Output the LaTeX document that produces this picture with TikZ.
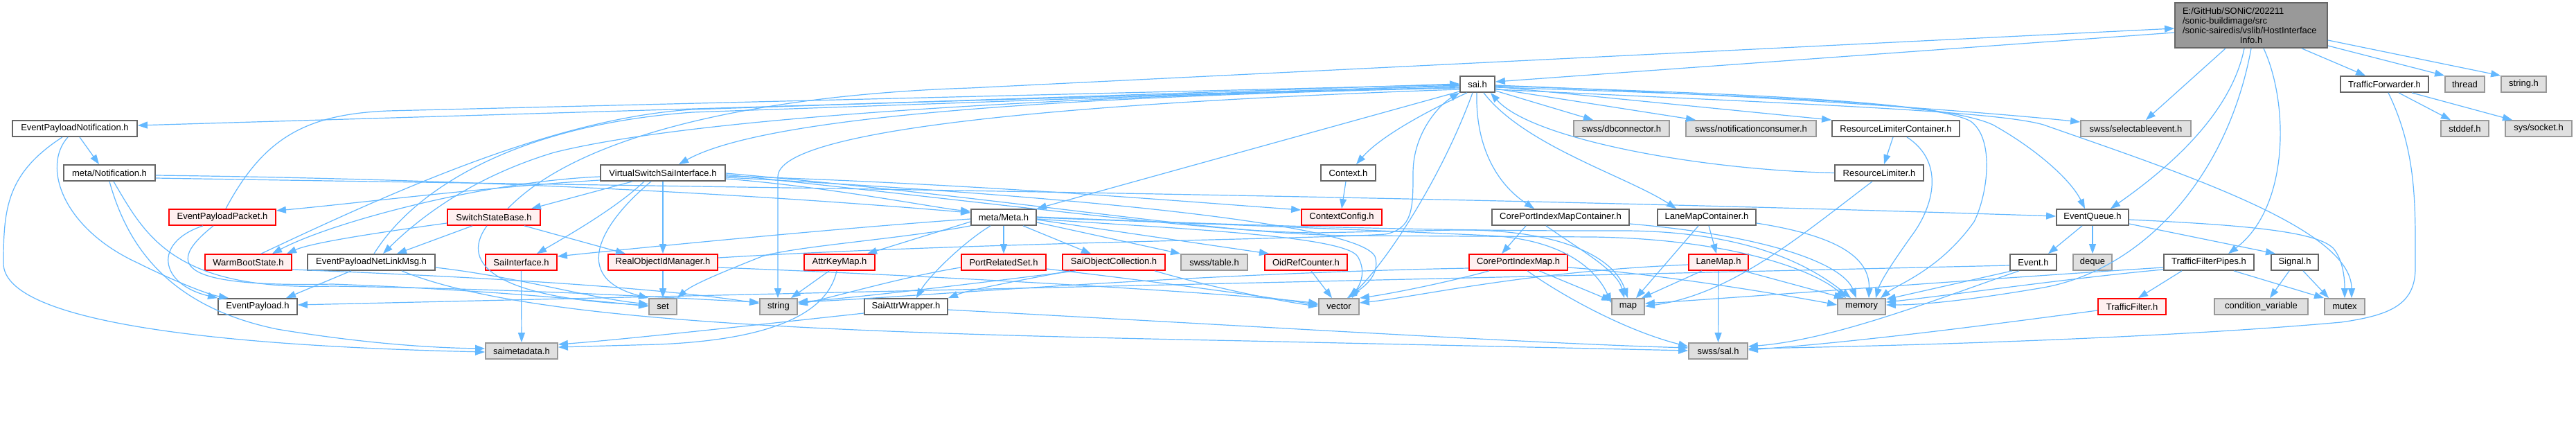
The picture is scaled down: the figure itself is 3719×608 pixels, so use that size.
\documentclass[tikz,border=0pt]{standalone}
\usepackage{fontspec}
\setmainfont{Liberation Sans}
\usetikzlibrary{arrows.meta}
\definecolor{edgec}{HTML}{63B8FF}
\definecolor{wbd}{HTML}{666666}
\definecolor{gfill}{HTML}{E0E0E0}
\definecolor{gbd}{HTML}{999999}
\definecolor{rfill}{HTML}{FFF0F0}
\definecolor{rbd}{HTML}{FF0000}
\definecolor{rootfill}{HTML}{999999}
\definecolor{rootbd}{HTML}{666666}
\newcommand\nd[6]{\node[#5, minimum width={(#3-#2)*1pt}] (#1) at ({(#2+#3)/2},#4) {#6};}
\begin{document}
\begin{tikzpicture}[x=1pt,y=-1pt,
 bx/.style={rectangle, minimum height=23pt, inner xsep=0pt, inner ysep=0pt, line width=1.8pt, font=\fontsize{13}{15}\selectfont, text=black},
 wh/.style={bx, fill=white, draw=wbd},
 gr/.style={bx, fill=gfill, draw=gbd},
 rd/.style={bx, fill=rfill, draw=rbd},
 ed/.style={draw=edgec, line width=1.2pt, -{Triangle[length=14pt,width=10pt]}}]
\path[fill=white] (0,0) rectangle (3719,608);
\useasboundingbox (0,0) rectangle (3719,608);

% ---------- nodes ----------
\node[bx, fill=rootfill, draw=rootbd, minimum width=220pt, minimum height=65pt, text width=198pt, align=left, font=\fontsize{13}{14}\selectfont] (root) at (3250,36.5) {E:/GitHub/SONiC/202211\\/sonic-buildimage/src\\/sonic-sairedis/vslib/HostInterface\\\makebox[\linewidth]{Info.h}};
\nd{sai}{2108}{2158}{121.5}{wh}{sai.h}
\nd{tfwd}{3379}{3506}{121.5}{wh}{TrafficForwarder.h}
\nd{thread}{3530}{3587}{121.5}{gr}{thread}
\nd{stringh}{3611}{3676}{121.5}{gr}{string.h}
\nd{epn}{18}{198}{185.5}{wh}{EventPayloadNotification.h}
\nd{dbconn}{2272}{2410}{185.5}{gr}{swss/dbconnector.h}
\nd{notifcons}{2434}{2622}{185.5}{gr}{swss/notificationconsumer.h}
\nd{rlc}{2645}{2829}{185.5}{wh}{ResourceLimiterContainer.h}
\nd{selev}{3004}{3163}{185.5}{gr}{swss/selectableevent.h}
\nd{stddef}{3524}{3593}{185.5}{gr}{stddef.h}
\nd{socket}{3617}{3713}{185.5}{gr}{sys/socket.h}
\nd{metanotif}{92}{224}{249.5}{wh}{meta/Notification.h}
\nd{vssi}{867}{1047}{249.5}{wh}{VirtualSwitchSaiInterface.h}
\nd{context}{1907}{1986}{249.5}{wh}{Context.h}
\nd{rl}{2649}{2777}{249.5}{wh}{ResourceLimiter.h}
\nd{epp}{244}{398}{313.5}{rd}{EventPayloadPacket.h}
\nd{ssb}{646}{780}{313.5}{rd}{SwitchStateBase.h}
\nd{meta}{1402}{1496}{313.5}{wh}{meta/Meta.h}
\nd{ctxcfg}{1879}{1995}{313.5}{rd}{ContextConfig.h}
\nd{cpimc}{2154}{2352}{313.5}{wh}{CorePortIndexMapContainer.h}
\nd{lmc}{2393}{2535}{313.5}{wh}{LaneMapContainer.h}
\nd{eq}{2969}{3073}{313.5}{wh}{EventQueue.h}
\nd{wbs}{296}{421}{378.5}{rd}{WarmBootState.h}
\nd{epnl}{444}{628}{378.5}{wh}{EventPayloadNetLinkMsg.h}
\nd{saiif}{701}{804}{378.5}{rd}{SaiInterface.h}
\nd{roim}{878}{1036}{378.5}{rd}{RealObjectIdManager.h}
\nd{akm}{1161}{1263}{378.5}{rd}{AttrKeyMap.h}
\nd{prs}{1388}{1510}{378.5}{rd}{PortRelatedSet.h}
\nd{soc}{1534}{1682}{378.5}{rd}{SaiObjectCollection.h}
\nd{table}{1705}{1801}{378.5}{gr}{swss/table.h}
\nd{orc}{1826}{1945}{378.5}{rd}{OidRefCounter.h}
\nd{cpim}{2121}{2263}{378.5}{rd}{CorePortIndexMap.h}
\nd{lanemap}{2438}{2524}{378.5}{rd}{LaneMap.h}
\nd{event}{2902}{2969}{378.5}{wh}{Event.h}
\nd{deque}{2993}{3049}{378.5}{gr}{deque}
\nd{tfp}{3124}{3254}{378.5}{wh}{TrafficFilterPipes.h}
\nd{signal}{3279}{3347}{378.5}{wh}{Signal.h}
\nd{ep}{315}{429}{442.5}{wh}{EventPayload.h}
\nd{set}{937}{977}{442.5}{gr}{set}
\nd{string}{1097}{1151}{442.5}{gr}{string}
\nd{saw}{1248}{1368}{442.5}{wh}{SaiAttrWrapper.h}
\nd{vector}{1904}{1962}{442.5}{gr}{vector}
\nd{map}{2327}{2374}{442.5}{gr}{map}
\nd{memory}{2653}{2722}{442.5}{gr}{memory}
\nd{tf}{3029}{3127}{442.5}{rd}{TrafficFilter.h}
\nd{condvar}{3197}{3332}{442.5}{gr}{condition\_variable}
\nd{mutex}{3356}{3414}{442.5}{gr}{mutex}
\nd{saimeta}{701}{805}{506.5}{gr}{saimetadata.h}
\nd{sal}{2438}{2523}{506.5}{gr}{swss/sal.h}

% ---------- root ----------
\draw[ed] (root.west |- 0,47) -- (sai.east |- 0,118);
\draw[ed] (ssb.north -| 733,0) .. controls (850,180) and (1150,135) .. (1400,127) -- (root.west |- 0,41);
\draw[ed] (root.south -| 3213,0) -- (selev.north -| 3098,0);
\draw[ed] (root.south -| 3240,0) .. controls (3220,170) and (3120,250) .. (eq.north -| 3047,0);
\draw[ed] (root.south -| 3268,0) .. controls (3305,150) and (3305,300) .. (tfp.north -| 3217,0);
\draw[ed] (root.south -| 3250,0) .. controls (3215,260) and (3090,390) .. (2950,415) .. controls (2850,432) and (2780,440) .. (memory.east |- 0,440);
\draw[ed] (root.south -| 3323,0) -- (tfwd.north -| 3415,0);
\draw[ed] (root.east |- 0,66) -- (thread.north west);
\draw[ed] (root.east |- 0,58) -- (stringh.north west);

% ---------- TrafficForwarder ----------
\draw[ed] (tfwd.south -| 3463,0) -- (stddef.north -| 3538,0);
\draw[ed] (tfwd.south -| 3482,0) -- (socket.north -| 3627,0);
\draw[ed] (tfwd.south -| 3448,0) .. controls (3490,220) and (3487,300) .. (3487,387) .. controls (3487,440) and (3450,455) .. (3380,465) .. controls (3100,490) and (2700,500) .. (sal.east |- 0,503);

% ---------- EventQueue ----------
\draw[ed] (eq.south -| 3006,0) -- (event.north -| 2957,0);
\draw[ed] (eq.south -| 3021,0) -- (deque.north -| 3021,0);
\draw[ed] (eq.east |- 0,323) -- (signal.north -| 3285,0);
\draw[ed] (eq.east |- 0,317) .. controls (3250,325) and (3350,335) .. (3370,360) .. controls (3385,380) and (3385,410) .. (mutex.north -| 3385,0);

% ---------- Signal / TrafficFilterPipes ----------
\draw[ed] (signal.south -| 3305,0) -- (condvar.north -| 3277,0);
\draw[ed] (signal.south -| 3325,0) -- (mutex.north -| 3362,0);
\draw[ed] (tfp.south -| 3150,0) -- (tf.north -| 3087,0);
\draw[ed] (tfp.south -| 3225,0) -- (mutex.north west);
\draw[ed] (tfp.west |- 0,386) .. controls (2900,400) and (2500,430) .. (map.east |- 0,438);
\draw[ed] (tfp.west |- 0,389) .. controls (3000,400) and (2800,428) .. (memory.east |- 0,436);
\draw[ed] (tf.west |- 0,448) .. controls (2900,465) and (2700,492) .. (sal.east |- 0,505);

% ---------- Event ----------
\draw[ed] (event.west |- 0,383) -- (ep.east |- 0,440);
\draw[ed] (event.south -| 2905,0) -- (memory.east |- 0,432);
\draw[ed] (event.south -| 2915,0) .. controls (2800,430) and (2650,490) .. (sal.east |- 0,500);

% ---------- LaneMap / containers ----------
\draw[ed] (lanemap.south) -- (sal.north);
\draw[ed] (lanemap.south -| 2457,0) -- (map.north -| 2370,0);
\draw[ed] (lanemap.south -| 2517,0) -- (memory.north -| 2662,0);
\draw[ed] (lanemap.west |- 0,382) .. controls (2200,392) and (2050,428) .. (vector.east |- 0,437);
\draw[ed] (lmc.south -| 2467,0) -- (lanemap.north -| 2478,0);
\draw[ed] (lmc.south -| 2452,0) -- (map.north -| 2362,0);
\draw[ed] (lmc.east |- 0,322) .. controls (2650,340) and (2700,370) .. (memory.north -| 2698,0);
\draw[ed] (cpimc.south -| 2203,0) -- (cpim.north -| 2168,0);
\draw[ed] (cpimc.south -| 2232,0) .. controls (2280,360) and (2335,390) .. (map.north -| 2345,0);
\draw[ed] (cpimc.east |- 0,323) .. controls (2550,340) and (2660,380) .. (memory.north -| 2680,0);
\draw[ed] (cpim.south -| 2150,0) .. controls (2080,410) and (2000,425) .. (vector.north east);
\draw[ed] (cpim.south -| 2222,0) -- (map.west |- 0,434);
\draw[ed] (cpim.south -| 2205,0) .. controls (2260,430) and (2350,478) .. (sal.west |- 0,500);
\draw[ed] (cpim.east |- 0,386) .. controls (2400,395) and (2600,430) .. (memory.west |- 0,440);
\draw[ed] (cpim.west |- 0,387) .. controls (1700,395) and (1300,430) .. (string.east |- 0,436);

% ---------- ResourceLimiter ----------
\draw[ed] (rlc.south -| 2733,0) -- (rl.north -| 2720,0);
\draw[ed] (rlc.south -| 2753,0) .. controls (2810,235) and (2790,300) .. (2760,340) .. controls (2735,375) and (2715,405) .. (memory.north -| 2708,0);
\draw[ed] (rl.west) .. controls (2450,245) and (2210,200) .. (sai.south -| 2152,0);
\draw[ed] (rl.south -| 2703,0) .. controls (2600,340) and (2500,425) .. (map.east |- 0,442);

% ---------- Context ----------
\draw[ed] (context.south -| 1943,0) -- (ctxcfg.north -| 1937,0);

% ---------- sai.h ----------
\draw[ed] (sai.south -| 2118,0) .. controls (2050,165) and (1990,200) .. (context.north -| 1958,0);
\draw[ed] (sai.south -| 2132,0) .. controls (2130,210) and (2160,265) .. (cpimc.north -| 2215,0);
\draw[ed] (sai.south -| 2142,0) .. controls (2200,210) and (2350,255) .. (lmc.north -| 2420,0);
\draw[ed] (sai.east |- 0,131) -- (dbconn.north -| 2300,0);
\draw[ed] (sai.east |- 0,128) -- (notifcons.north -| 2448,0);
\draw[ed] (sai.east |- 0,125) -- (rlc.north west);
\draw[ed] (sai.east |- 0,123) .. controls (2600,140) and (2900,165) .. (selev.west |- 0,176);
\draw[ed] (sai.east |- 0,124) .. controls (2500,135) and (2800,145) .. (2877,180) .. controls (2940,215) and (2990,260) .. (eq.north -| 3010,0);
\draw[ed] (sai.east |- 0,126) .. controls (2600,140) and (2800,150) .. (2845,175) .. controls (2880,200) and (2870,280) .. (2850,320) .. controls (2800,390) and (2740,410) .. (memory.north -| 2715,0);
\draw[ed] (sai.east |- 0,129) .. controls (2600,150) and (2880,160) .. (2950,180) .. controls (3150,250) and (3395,330) .. (mutex.north -| 3395,0);
\draw[ed] (sai.south -| 2126,0) .. controls (2080,260) and (2000,380) .. (vector.north -| 1947,0);
\draw[ed] (sai.west |- 0,129) .. controls (1500,150) and (1123,190) .. (1123,255) -- (string.north -| 1123,0);
\draw[ed] (sai.west |- 0,132) -- (meta.north east);
\draw[ed] (sai.west |- 0,127) .. controls (1500,140) and (1100,170) .. (vssi.north -| 980,0);
\draw[ed] (sai.west |- 0,124) -- (epn.east |- 0,181);
\draw[ed] (sai.west |- 0,126) .. controls (1500,140) and (1000,170) .. (800,220) .. controls (700,250) and (620,300) .. (epnl.north -| 553,0);

% ---------- back edges into sai.h ----------
\draw[ed] (epp.north -| 326,0) .. controls (380,200) and (440,165) .. (560,160) -- (sai.west |- 0,122);
\draw[ed] (wbs.north -| 377,0) .. controls (560,280) and (800,170) .. (1000,158) -- (sai.west |- 0,121);
\draw[ed] (epnl.north -| 540,0) .. controls (600,270) and (750,180) .. (1000,162) -- (sai.west |- 0,123);
\draw[ed] (roim.east |- 0,372) .. controls (1400,350) and (1900,345) .. (2000,338) .. controls (2040,330) and (2040,300) .. (2040,250) .. controls (2040,190) and (2080,150) .. (sai.south west);

% ---------- EventPayloadNotification / Notification ----------
\draw[ed] (epn.south -| 115,0) -- (metanotif.north -| 143,0);
\draw[ed] (epn.south -| 98,0) .. controls (60,240) and (90,330) .. (200,380) .. controls (250,405) and (300,425) .. (ep.north -| 330,0);
\draw[ed] (epn.south -| 90,0) .. controls (10,250) and (5,300) .. (5,380) .. controls (5,470) and (350,500) .. (saimeta.west |- 0,508);
\draw[ed] (metanotif.east |- 0,253) .. controls (800,260) and (1200,290) .. (meta.west |- 0,307);
\draw[ed] (metanotif.east |- 0,257) .. controls (1000,270) and (2000,280) .. (eq.west |- 0,312);
\draw[ed] (metanotif.south -| 158,0) .. controls (180,340) and (230,440) .. (400,475) .. controls (520,495) and (620,502) .. (saimeta.west |- 0,503);
\draw[ed] (metanotif.south -| 164,0) .. controls (210,340) and (250,420) .. (480,413) .. controls (800,418) and (1000,432) .. (string.west |- 0,436);

% ---------- EventPayloadPacket / WarmBootState / NetLinkMsg ----------
\draw[ed] (epp.south -| 293,0) .. controls (220,350) and (230,410) .. (ep.north west);
\draw[ed] (epp.south -| 308,0) .. controls (240,380) and (250,415) .. (480,410) .. controls (700,418) and (870,435) .. (set.west |- 0,442);
\draw[ed] (wbs.east |- 0,389) .. controls (700,400) and (950,415) .. (string.west |- 0,438);
\draw[ed] (epnl.south -| 507,0) -- (ep.north -| 413,0);
\draw[ed] (epnl.south -| 580,0) .. controls (760,465) and (1200,480) .. (1800,492) -- (sal.west |- 0,506);
\draw[ed] (epnl.east |- 0,386) .. controls (750,400) and (850,430) .. (set.west |- 0,439);

% ---------- SwitchStateBase ----------
\draw[ed] (ssb.south -| 682,0) -- (epnl.north -| 573,0);
\draw[ed] (ssb.west |- 0,322) .. controls (550,335) and (450,350) .. (wbs.north -| 414,0);
\draw[ed] (ssb.south -| 757,0) -- (roim.north -| 903,0);
\draw[ed] (ssb.south -| 703,0) .. controls (660,385) and (730,425) .. (880,437) -- (set.west |- 0,441);

% ---------- VirtualSwitchSaiInterface ----------
\draw[ed] (vssi.south -| 913,0) -- (ssb.north -| 767,0);
\draw[ed] (vssi.south -| 957,0) -- (roim.north -| 957,0);
\draw[ed] (vssi.south -| 930,0) .. controls (890,300) and (820,340) .. (saiif.north -| 775,0);
\draw[ed] (vssi.south -| 940,0) .. controls (870,320) and (820,400) .. (set.north west);
\draw[ed] (vssi.west |- 0,260) .. controls (700,270) and (500,295) .. (epp.east |- 0,304);
\draw[ed] (vssi.west |- 0,255) .. controls (700,262) and (480,320) .. (wbs.north -| 393,0);
\draw[ed] (vssi.east |- 0,258) .. controls (1200,270) and (1350,300) .. (meta.west |- 0,305);
\draw[ed] (vssi.east |- 0,254) .. controls (1400,265) and (1700,290) .. (ctxcfg.west |- 0,303);
\draw[ed] (vssi.east |- 0,256) .. controls (1500,280) and (1960,320) .. (1985,370) .. controls (1995,400) and (1960,420) .. (vector.north -| 1945,0);
\draw[ed] (vssi.east |- 0,252) .. controls (1500,300) and (1750,335) .. (1900,336) -- (2100,332) .. controls (2250,330) and (2330,370) .. (map.north -| 2350,0);
\draw[ed] (vssi.east |- 0,250) .. controls (1500,290) and (1750,338) .. (1950,340) -- (2300,342) .. controls (2500,345) and (2620,390) .. (memory.north -| 2665,0);

% ---------- SaiInterface / RealObjectIdManager ----------
\draw[ed] (saiif.south) -- (saimeta.north);
\draw[ed] (roim.south -| 957,0) -- (set.north -| 957,0);
\draw[ed] (roim.east |- 0,386) .. controls (1400,400) and (1800,425) .. (vector.west |- 0,438);

% ---------- meta/Meta.h ----------
\draw[ed] (meta.south -| 1449,0) -- (prs.north -| 1449,0);
\draw[ed] (meta.south -| 1477,0) -- (soc.north -| 1575,0);
\draw[ed] (meta.east |- 0,321) -- (table.north west);
\draw[ed] (meta.east |- 0,317) -- (orc.north -| 1832,0);
\draw[ed] (meta.west |- 0,320) -- (akm.north -| 1252,0);
\draw[ed] (meta.south -| 1430,0) .. controls (1390,350) and (1340,400) .. (saw.north -| 1323,0);
\draw[ed] (meta.south west) .. controls (1300,345) and (1150,355) .. (1100,370) .. controls (1050,390) and (1000,410) .. (set.north east);
\draw[ed] (meta.west |- 0,316) .. controls (1200,330) and (900,360) .. (saiif.east |- 0,370);
\draw[ed] (meta.east |- 0,316) .. controls (1700,330) and (1940,340) .. (1960,370) .. controls (1975,395) and (1960,415) .. (vector.north -| 1952,0);
\draw[ed] (meta.east |- 0,314) .. controls (1800,325) and (2050,335) .. (2150,340) .. controls (2270,346) and (2310,400) .. (map.west |- 0,437);
\draw[ed] (meta.east |- 0,313) .. controls (1800,326) and (2100,334) .. (2350,333) .. controls (2520,335) and (2610,380) .. (memory.north -| 2672,0);

% ---------- row 5 red nodes ----------
\draw[ed] (prs.east |- 0,388) .. controls (1700,410) and (1850,432) .. (vector.west |- 0,440);
\draw[ed] (prs.west |- 0,386) .. controls (1300,400) and (1200,430) .. (string.east |- 0,439);
\draw[ed] (soc.south -| 1553,0) .. controls (1400,410) and (1250,428) .. (string.east |- 0,436);
\draw[ed] (soc.south -| 1667,0) .. controls (1750,415) and (1850,435) .. (vector.west |- 0,442);
\draw[ed] (soc.south -| 1545,0) .. controls (1470,405) and (1400,418) .. (saw.north east);
\draw[ed] (orc.south -| 1893,0) -- (vector.north -| 1923,0);
\draw[ed] (akm.south -| 1197,0) -- (string.north -| 1142,0);
\draw[ed] (akm.south -| 1208,0) .. controls (1195,450) and (1120,490) .. (950,497) -- (saimeta.east |- 0,501);
\draw[ed] (saw.west |- 0,452) .. controls (1100,468) and (900,490) .. (saimeta.east |- 0,497);
\draw[ed] (saw.east |- 0,447) .. controls (1800,470) and (2200,495) .. (sal.west |- 0,502);
\end{tikzpicture}
\end{document}
